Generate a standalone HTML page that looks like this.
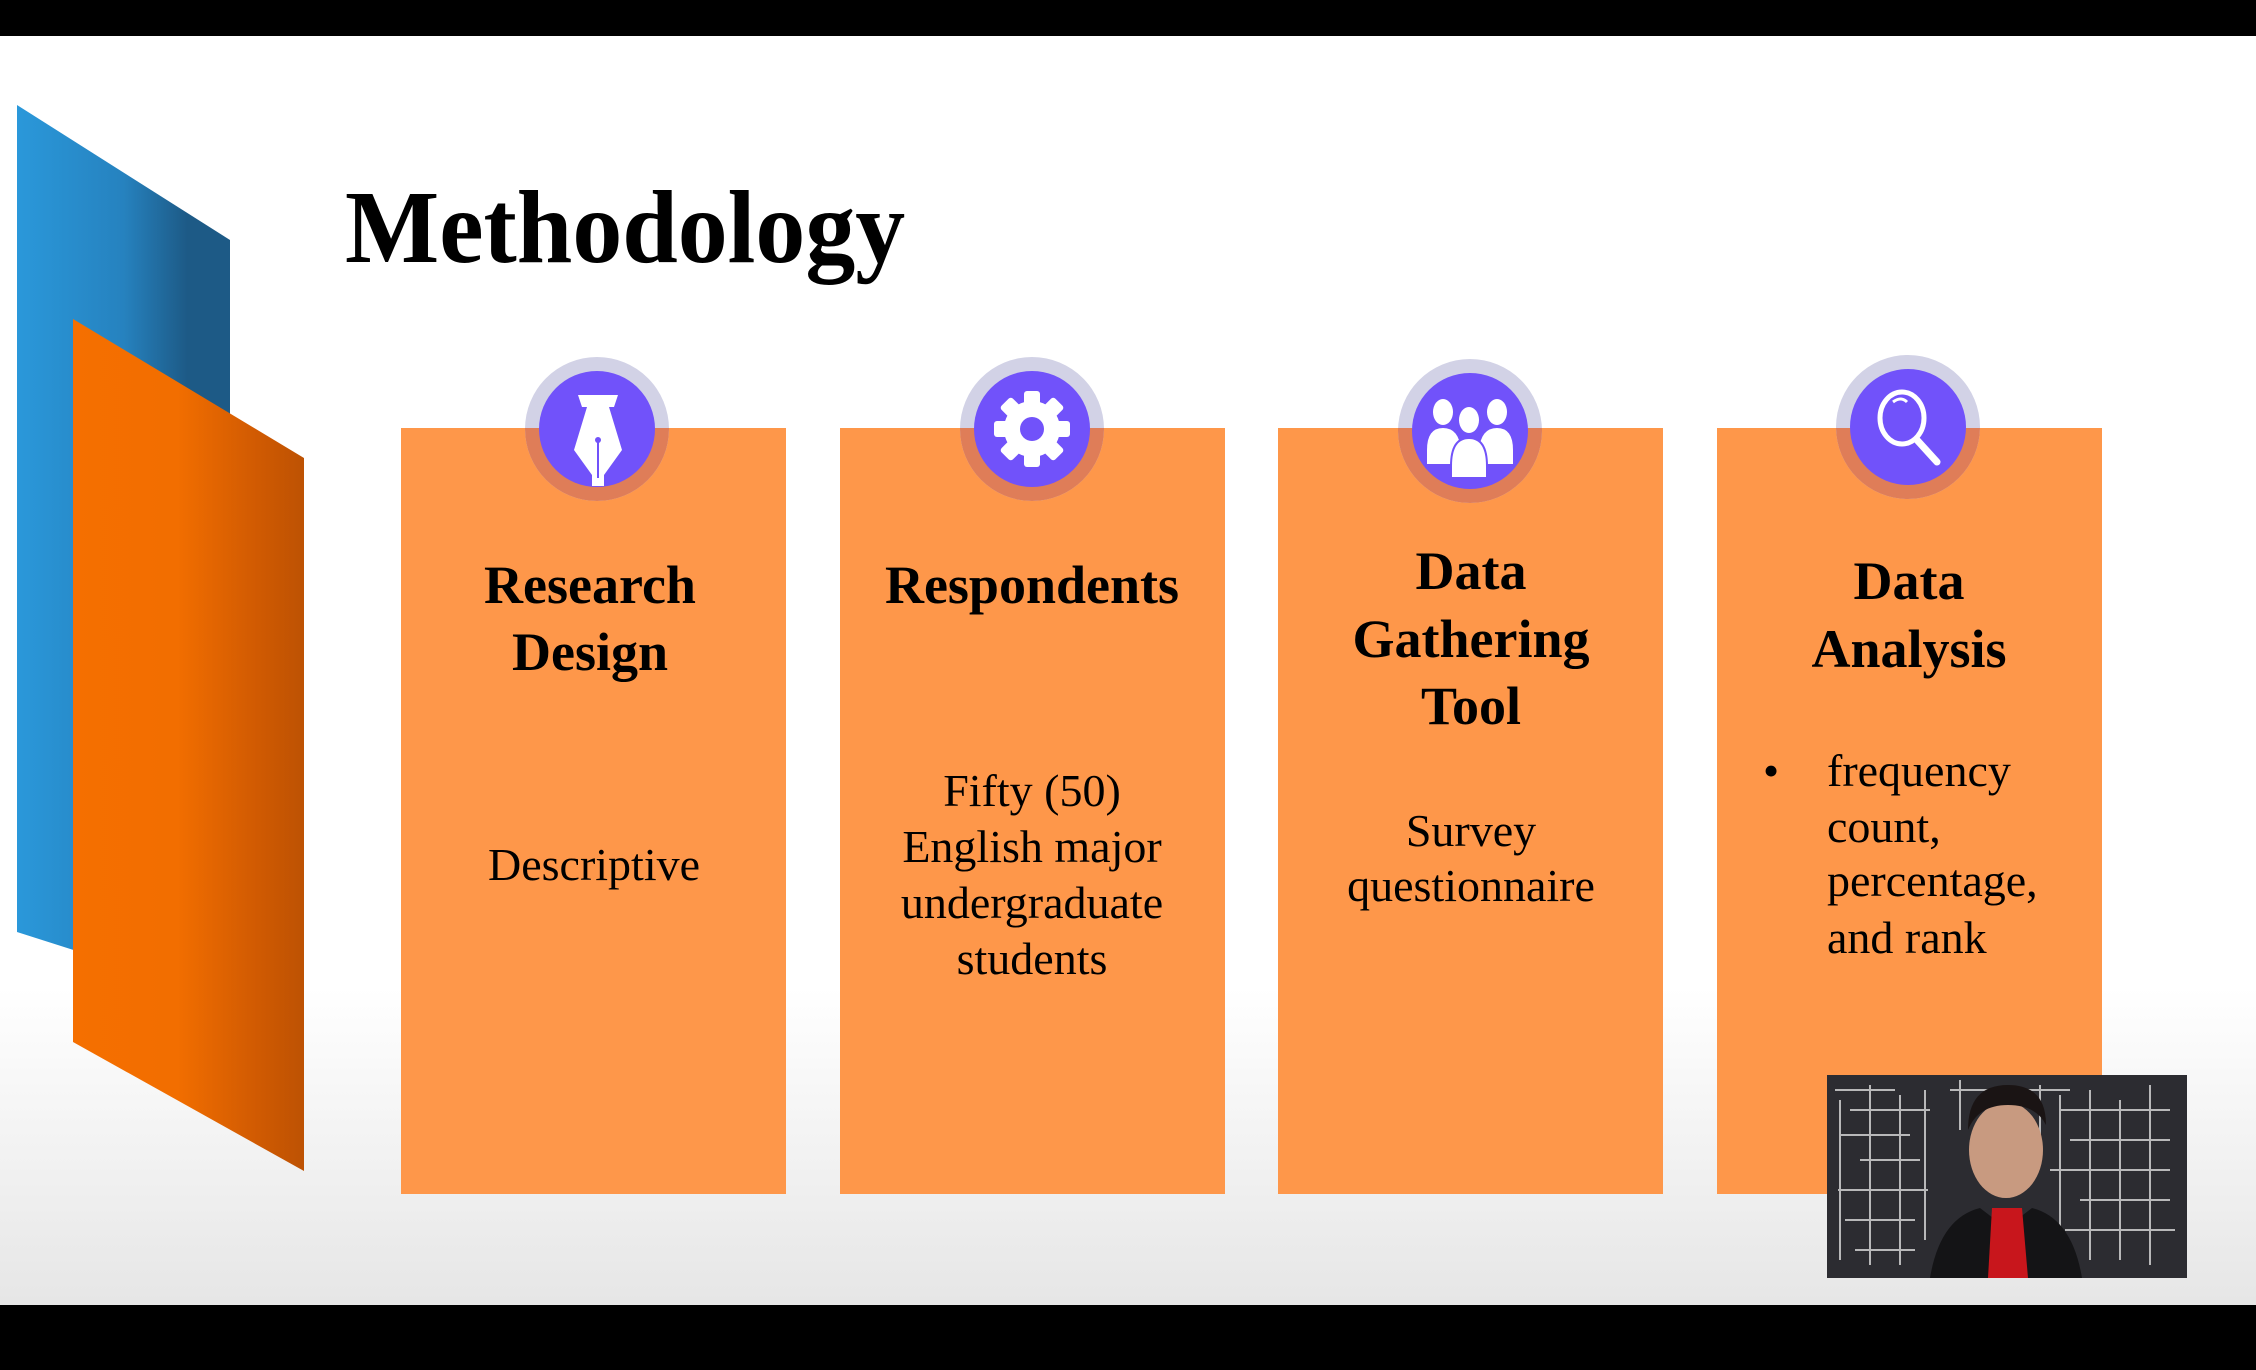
<!DOCTYPE html>
<html><head><meta charset="utf-8"><style>
html,body{margin:0;padding:0;}
body{width:2256px;height:1370px;overflow:hidden;background:#000;}
svg{display:block;}
</style></head><body>
<svg width="2256" height="1370" viewBox="0 0 2256 1370" xmlns="http://www.w3.org/2000/svg">
<defs>
<linearGradient id="bg" x1="0" y1="0" x2="0" y2="1">
<stop offset="0" stop-color="#ffffff"/><stop offset="0.75" stop-color="#ffffff"/><stop offset="1" stop-color="#e6e6e6"/>
</linearGradient>
<linearGradient id="blue" x1="0" y1="0" x2="1" y2="0">
<stop offset="0" stop-color="#2a98da"/><stop offset="0.5" stop-color="#2682bf"/><stop offset="0.8" stop-color="#1d5a86"/><stop offset="1" stop-color="#1d5a86"/>
</linearGradient>
<linearGradient id="orange" x1="0" y1="0" x2="1" y2="0">
<stop offset="0" stop-color="#f56f00"/><stop offset="0.45" stop-color="#f26e00"/><stop offset="0.8" stop-color="#d05a02"/><stop offset="1" stop-color="#bd5203"/>
</linearGradient>
<clipPath id="below"><rect x="0" y="428" width="2256" height="200"/></clipPath>
</defs>
<rect x="0" y="36" width="2256" height="1269" fill="url(#bg)"/>
<polygon points="17,105 230,240 230,1000 17,932" fill="url(#blue)"/>
<polygon points="73,319 304,458 304,1171 73,1042" fill="url(#orange)"/>
<text x="0" y="0" transform="translate(345,262) scale(0.96,1)" font-family="Liberation Serif, serif" font-weight="bold" font-size="104" fill="#000">Methodology</text>

<g fill="#fe974a">
<rect x="401" y="428" width="385" height="766"/>
<rect x="840" y="428" width="385" height="766"/>
<rect x="1278" y="428" width="385" height="766"/>
<rect x="1717" y="428" width="385" height="766"/>
</g>

<g>
<circle cx="597" cy="429" r="72" fill="#d2d2e6"/>
<circle cx="597" cy="429" r="72" fill="#df7d58" clip-path="url(#below)"/>
<circle cx="597" cy="429" r="58" fill="#7152fa"/>
<circle cx="1032" cy="429" r="72" fill="#d2d2e6"/>
<circle cx="1032" cy="429" r="72" fill="#df7d58" clip-path="url(#below)"/>
<circle cx="1032" cy="429" r="58" fill="#7152fa"/>
<circle cx="1470" cy="431" r="72" fill="#d2d2e6"/>
<circle cx="1470" cy="431" r="72" fill="#df7d58" clip-path="url(#below)"/>
<circle cx="1470" cy="431" r="58" fill="#7152fa"/>
<circle cx="1908" cy="427" r="72" fill="#d2d2e6"/>
<circle cx="1908" cy="427" r="72" fill="#df7d58" clip-path="url(#below)"/>
<circle cx="1908" cy="427" r="58" fill="#7152fa"/>
</g>
<g fill="#fff">
<polygon points="578,395 618,395 614,407 609,407 622,450 604,475 604,486 592,486 592,475 574,450 587,407 582,407"/>
<line x1="598" y1="440" x2="598" y2="478" stroke="#7152fa" stroke-width="2"/>
<circle cx="598" cy="440" r="3" fill="#7152fa"/>
</g>
<g fill="#fff">
<circle cx="1032" cy="429" r="28"/>
<rect x="1024" y="391" width="16" height="76" rx="3"/>
<rect x="994" y="421" width="76" height="16" rx="3"/>
<rect x="1024" y="391" width="16" height="76" rx="3" transform="rotate(45 1032 429)"/>
<rect x="1024" y="391" width="16" height="76" rx="3" transform="rotate(-45 1032 429)"/>
<circle cx="1032" cy="429" r="12" fill="#7152fa"/>
</g>
<g fill="#fff">
<ellipse cx="1443" cy="412" rx="10" ry="13"/>
<ellipse cx="1497" cy="412" rx="10" ry="13"/>
<path d="M1427 450 q0 -22 16 -22 q16 0 18 22 v14 h-34z"/>
<path d="M1479 450 q2 -22 18 -22 q16 0 16 22 v14 h-34z"/>
<ellipse cx="1469" cy="420" rx="10" ry="13"/>
<path d="M1451 466 q0 -28 18 -28 q18 0 18 28 v12 h-36z" stroke="#7152fa" stroke-width="2"/>
</g>
<g>
<ellipse cx="1902" cy="418" rx="22" ry="26" fill="none" stroke="#fff" stroke-width="5"/>
<line x1="1917" y1="440" x2="1937" y2="462" stroke="#fff" stroke-width="7" stroke-linecap="round"/>
<path d="M1893 402 q8 -6 14 0" fill="none" stroke="#fff" stroke-width="3"/>
</g>

<g font-family="Liberation Serif, serif" font-weight="bold" font-size="54" fill="#000" text-anchor="middle">
<text x="590" y="603">Research</text>
<text x="590" y="670">Design</text>
<text x="1032" y="603">Respondents</text>
<text x="1471" y="589">Data</text>
<text x="1471" y="657">Gathering</text>
<text x="1471" y="724">Tool</text>
<text x="1909" y="599">Data</text>
<text x="1909" y="667">Analysis</text>
</g>
<g font-family="Liberation Serif, serif" font-size="46" fill="#000" text-anchor="middle">
<text x="594" y="880">Descriptive</text>
<text x="1032" y="806">Fifty (50)</text>
<text x="1032" y="862">English major</text>
<text x="1032" y="918">undergraduate</text>
<text x="1032" y="974">students</text>
<text x="1471" y="846">Survey</text>
<text x="1471" y="901">questionnaire</text>
</g>
<g font-family="Liberation Serif, serif" font-size="46" fill="#000">
<text x="1763" y="786">•</text>
<text x="1827" y="786">frequency</text>
<text x="1827" y="842">count,</text>
<text x="1827" y="896">percentage,</text>
<text x="1827" y="953">and rank</text>
</g>

<g>
<rect x="1827" y="1075" width="360" height="203" fill="#2c2c31"/>
<g stroke="#dcdcdc" stroke-width="2" opacity="0.8">
<path d="M1835 1090 h60 M1850 1110 h80 M1840 1135 h70 M1860 1160 h60 M1838 1190 h90 M1845 1220 h70 M1855 1250 h60 M1840 1100 v160 M1870 1085 v180 M1900 1095 v170 M1925 1090 v150 M2060 1095 v160 M2090 1090 v170 M2120 1100 v160 M2150 1085 v180 M2060 1110 h110 M2070 1140 h100 M2050 1170 h120 M2080 1200 h90 M2065 1230 h110 M1950 1090 h120 M1960 1080 v50 M2040 1085 v60"/>
</g>
<ellipse cx="2006" cy="1150" rx="37" ry="48" fill="#c89a80"/>
<path d="M1968 1130 q0 -45 40 -45 q38 0 38 40 q-10 -20 -38 -20 q-30 0 -40 25z" fill="#1a1414"/>
<path d="M1930 1278 q10 -60 50 -70 l26 20 l26 -20 q40 10 50 70z" fill="#141416"/>
<polygon points="1992,1208 2022,1208 2028,1278 1988,1278" fill="#c8161c"/>
</g>
</svg>
</body></html>
